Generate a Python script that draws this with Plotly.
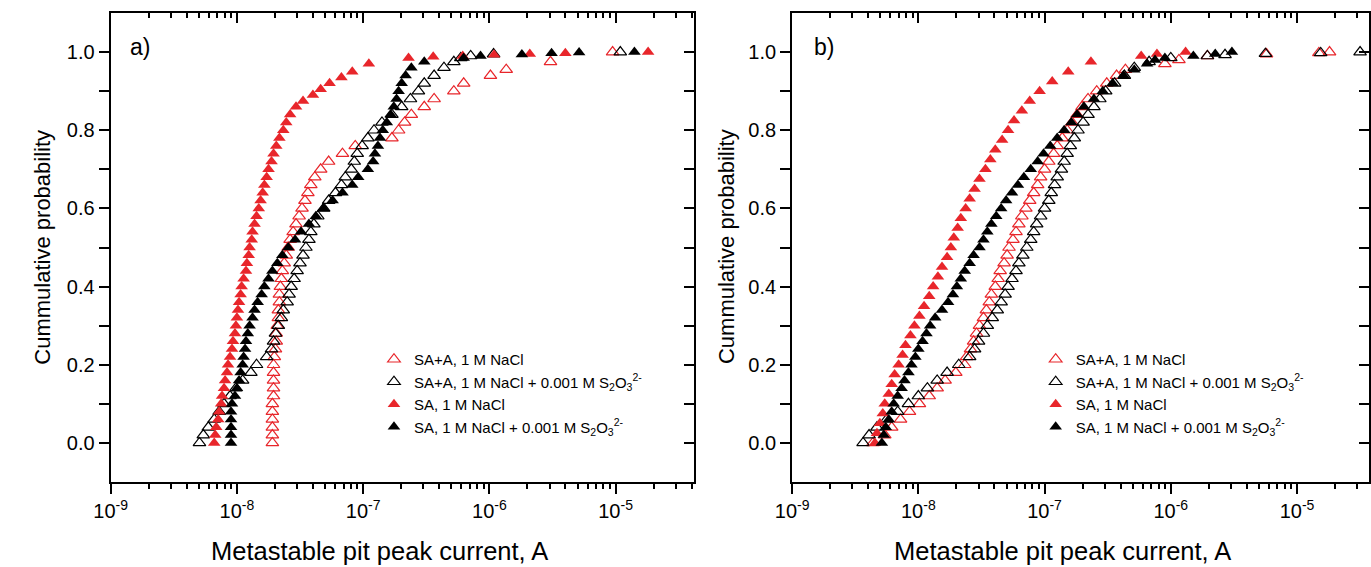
import plotly.graph_objects as go

RED = '#e8262b'
BLACK = '#000000'
FONT = 'Arial, Liberation Sans, sans-serif'

series_labels = [
    "SA+A, 1 M NaCl",
    "SA+A, 1 M NaCl + 0.001 M S<sub>2</sub>O<sub>3</sub><sup>2-</sup>",
    "SA, 1 M NaCl",
    "SA, 1 M NaCl + 0.001 M S<sub>2</sub>O<sub>3</sub><sup>2-</sup>",
]

# cumulative probability levels
grid = [0.00, 0.02, 0.04, 0.06, 0.08, 0.10, 0.12, 0.14, 0.16, 0.18, 0.20, 0.22,
        0.24, 0.26, 0.28, 0.30, 0.32, 0.34, 0.36, 0.38, 0.40, 0.42, 0.44, 0.46,
        0.48, 0.50, 0.52, 0.54, 0.56, 0.58, 0.60, 0.62, 0.64, 0.66, 0.68, 0.70,
        0.72, 0.74, 0.76, 0.78, 0.80, 0.82, 0.84, 0.86, 0.88, 0.90, 0.92, 0.94, 0.96]

# ---------------- panel a ----------------
a_red_open_x = [1.91e-8, 1.91e-8, 1.91e-8, 1.91e-8, 1.91e-8, 1.91e-8, 1.95e-8, 1.95e-8,
                1.95e-8, 1.95e-8, 1.95e-8, 1.98e-8, 2.02e-8, 2.05e-8, 2.05e-8, 2.09e-8,
                2.13e-8, 2.13e-8, 2.17e-8, 2.17e-8, 2.21e-8, 2.25e-8, 2.29e-8, 2.37e-8,
                2.46e-8, 2.55e-8, 2.64e-8, 2.79e-8, 2.94e-8, 3.11e-8, 3.28e-8, 3.46e-8,
                3.65e-8, 3.85e-8, 4.14e-8, 4.61e-8, 5.33e-8, 6.86e-8, 8.66e-8, 1.69e-7,
                1.91e-7, 2.13e-7, 2.41e-7, 3.05e-7, 3.65e-7, 5.23e-7, 6.26e-7, 1.02e-6,
                1.36e-6, 3.05e-6, 9.47e-6]
a_red_open_y = grid[:48] + [0.955, 0.975, 1.0]

a_black_open_x = [5.05e-9, 5.42e-9, 5.94e-9, 6.61e-9, 7.23e-9, 7.91e-9, 8.82e-9, 9.82e-9,
                  1.11e-8, 1.29e-8, 1.43e-8, 1.72e-8, 1.88e-8, 1.95e-8, 2.02e-8, 2.13e-8,
                  2.25e-8, 2.33e-8, 2.50e-8, 2.59e-8, 2.69e-8, 2.84e-8, 3.00e-8, 3.16e-8,
                  3.34e-8, 3.52e-8, 3.72e-8, 3.85e-8, 4.07e-8, 4.37e-8, 4.87e-8, 5.33e-8,
                  6.04e-8, 6.73e-8, 7.23e-8, 8.06e-8, 8.51e-8, 8.98e-8, 9.82e-8, 1.09e-7,
                  1.22e-7, 1.41e-7, 1.69e-7, 2.02e-7, 2.37e-7, 2.74e-7, 3.05e-7, 3.65e-7,
                  4.37e-7, 5.23e-7, 5.94e-7, 7.11e-7, 1.08e-6, 1.09e-5]
a_black_open_y = grid + [0.975, 0.985, 0.99, 0.995, 1.0]

a_red_fill_x = [6.61e-9, 6.73e-9, 6.86e-9, 7.11e-9, 7.23e-9, 7.50e-9, 7.63e-9, 7.91e-9,
                8.06e-9, 8.35e-9, 8.51e-9, 8.82e-9, 9.14e-9, 9.31e-9, 9.65e-9, 9.82e-9,
                1.00e-8, 1.02e-8, 1.04e-8, 1.07e-8, 1.09e-8, 1.13e-8, 1.18e-8, 1.20e-8,
                1.24e-8, 1.26e-8, 1.31e-8, 1.33e-8, 1.38e-8, 1.43e-8, 1.49e-8, 1.54e-8,
                1.60e-8, 1.65e-8, 1.72e-8, 1.78e-8, 1.88e-8, 1.95e-8, 2.05e-8, 2.17e-8,
                2.33e-8, 2.46e-8, 2.64e-8, 2.94e-8, 3.34e-8, 4.00e-8, 4.61e-8, 5.42e-8,
                6.73e-8, 8.20e-8, 1.11e-7, 2.29e-7, 3.59e-7, 6.15e-7, 1.09e-6, 2.09e-6,
                4.00e-6, 1.81e-5]
a_red_fill_y = grid[:44] + [0.875, 0.89, 0.905, 0.92, 0.935, 0.95, 0.97, 0.985,
                            0.988, 0.99, 0.993, 0.995, 0.997, 1.0]

a_black_fill_x = [8.98e-9, 8.98e-9, 8.98e-9, 8.98e-9, 8.98e-9, 9.14e-9, 9.65e-9, 1.00e-8,
                  1.04e-8, 1.07e-8, 1.11e-8, 1.13e-8, 1.16e-8, 1.18e-8, 1.22e-8, 1.26e-8,
                  1.33e-8, 1.38e-8, 1.46e-8, 1.57e-8, 1.65e-8, 1.78e-8, 1.91e-8, 2.09e-8,
                  2.29e-8, 2.55e-8, 2.89e-8, 3.22e-8, 3.72e-8, 4.22e-8, 4.87e-8, 5.73e-8,
                  6.86e-8, 8.20e-8, 9.14e-8, 1.09e-7, 1.20e-7, 1.24e-7, 1.31e-7, 1.36e-7,
                  1.43e-7, 1.54e-7, 1.65e-7, 1.75e-7, 1.84e-7, 1.91e-7, 2.02e-7, 2.17e-7,
                  2.41e-7, 3.05e-7, 6.26e-7, 8.51e-7, 1.81e-6, 3.11e-6, 5.14e-6, 1.41e-5]
a_black_fill_y = grid + [0.975, 0.985, 0.99, 0.994, 0.997, 0.999, 1.0]

# ---------------- panel b ----------------
b_red_open_x = [4.37e-9, 5.42e-9, 6.15e-9, 7.23e-9, 8.51e-9, 1.02e-8, 1.22e-8, 1.41e-8,
                1.63e-8, 1.98e-8, 2.33e-8, 2.41e-8, 2.59e-8, 2.74e-8, 2.89e-8, 3.05e-8,
                3.28e-8, 3.46e-8, 3.65e-8, 3.79e-8, 4.07e-8, 4.29e-8, 4.45e-8, 4.78e-8,
                5.05e-8, 5.23e-8, 5.62e-8, 5.94e-8, 6.26e-8, 6.61e-8, 7.11e-8, 7.63e-8,
                8.20e-8, 8.82e-8, 9.31e-8, 1.00e-7, 1.08e-7, 1.18e-7, 1.26e-7, 1.38e-7,
                1.51e-7, 1.65e-7, 1.81e-7, 1.98e-7, 2.21e-7, 2.59e-7, 3.11e-7, 3.72e-7,
                4.37e-7, 8.98e-7, 1.16e-6, 1.95e-6, 5.73e-6, 1.49e-5, 1.81e-5]
b_red_open_y = grid[:48] + [0.955, 0.97, 0.98, 0.99, 0.995, 0.998, 1.0]

b_black_open_x = [3.65e-9, 4.07e-9, 4.70e-9, 5.62e-9, 6.86e-9, 8.35e-9, 1.00e-8, 1.18e-8,
                  1.41e-8, 1.69e-8, 2.09e-8, 2.55e-8, 2.79e-8, 3.00e-8, 3.28e-8, 3.52e-8,
                  3.85e-8, 4.22e-8, 4.53e-8, 4.87e-8, 5.14e-8, 5.52e-8, 5.94e-8, 6.26e-8,
                  6.73e-8, 7.23e-8, 7.77e-8, 8.20e-8, 8.66e-8, 9.31e-8, 1.00e-7, 1.08e-7,
                  1.13e-7, 1.20e-7, 1.26e-7, 1.36e-7, 1.43e-7, 1.51e-7, 1.60e-7, 1.72e-7,
                  1.84e-7, 2.02e-7, 2.21e-7, 2.46e-7, 2.74e-7, 3.05e-7, 3.59e-7, 4.29e-7,
                  5.14e-7, 6.73e-7, 1.00e-6, 1.95e-6, 2.69e-6, 5.62e-6, 1.54e-5, 3.16e-5]
b_black_open_y = grid + [0.975, 0.985, 0.99, 0.993, 0.996, 0.998, 1.0]

b_red_fill_x = [4.53e-9, 4.70e-9, 4.96e-9, 5.23e-9, 5.42e-9, 5.83e-9, 6.15e-9, 6.49e-9,
                6.98e-9, 7.50e-9, 7.91e-9, 8.66e-9, 9.31e-9, 1.02e-8, 1.11e-8, 1.22e-8,
                1.31e-8, 1.43e-8, 1.54e-8, 1.69e-8, 1.81e-8, 1.91e-8, 2.05e-8, 2.17e-8,
                2.37e-8, 2.55e-8, 2.79e-8, 3.05e-8, 3.40e-8, 3.72e-8, 4.07e-8, 4.61e-8,
                5.14e-8, 5.73e-8, 6.61e-8, 7.63e-8, 9.14e-8, 1.15e-7, 1.54e-7, 2.33e-7,
                5.83e-7, 7.77e-7, 1.31e-6]
b_red_fill_y = [0.0, 0.025, 0.05, 0.075, 0.1, 0.125, 0.15, 0.175, 0.2, 0.225, 0.25, 0.275,
                0.3, 0.325, 0.35, 0.375, 0.4, 0.425, 0.45, 0.475, 0.5, 0.525, 0.55, 0.575,
                0.6, 0.625, 0.65, 0.675, 0.7, 0.725, 0.75, 0.775, 0.8, 0.825, 0.85, 0.875,
                0.9, 0.925, 0.95, 0.975, 0.99, 0.995, 1.0]

b_black_fill_x = [5.14e-9, 5.33e-9, 5.52e-9, 5.83e-9, 6.15e-9, 6.38e-9, 6.86e-9, 7.37e-9,
                  7.77e-9, 8.35e-9, 8.82e-9, 9.47e-9, 1.00e-8, 1.08e-8, 1.16e-8, 1.24e-8,
                  1.36e-8, 1.54e-8, 1.72e-8, 1.88e-8, 2.02e-8, 2.17e-8, 2.33e-8, 2.55e-8,
                  2.74e-8, 3.05e-8, 3.28e-8, 3.52e-8, 3.79e-8, 4.14e-8, 4.53e-8, 4.96e-8,
                  5.52e-8, 6.15e-8, 6.86e-8, 7.77e-8, 8.82e-8, 9.82e-8, 1.11e-7, 1.26e-7,
                  1.43e-7, 1.63e-7, 1.81e-7, 2.05e-7, 2.46e-7, 2.89e-7, 3.46e-7, 4.22e-7,
                  5.14e-7, 6.49e-7, 7.50e-7, 8.98e-7, 1.51e-6, 2.25e-6, 3.05e-6]
b_black_fill_y = grid[:48] + [0.955, 0.97, 0.98, 0.985, 0.99, 0.995, 1.0]

# axis ticks
x_major = [1e-9, 1e-8, 1e-7, 1e-6, 1e-5]
x_major_text = ['10<sup>-9</sup>', '10<sup>-8</sup>', '10<sup>-7</sup>',
                '10<sup>-6</sup>', '10<sup>-5</sup>']
x_minor = [m * 10.0 ** e for e in range(-9, -4) for m in range(2, 10)]
y_ticks = [0.0, 0.1, 0.2, 0.3, 0.4, 0.5, 0.6, 0.7, 0.8, 0.9, 1.0]
y_text = ['0.0', '', '0.2', '', '0.4', '', '0.6', '', '0.8', '', '1.0']

W, H = 1371, 567
dom_a = [95 / W, 687 / W]
dom_b = [786 / W, 1.0]
dom_y = [1 - 482 / H, 1 - 13 / H]
rng_a = [-9, -9 + (687 - 95) / 128]
rng_b = [-9, -9 + (1371 - 786) / 128]
rng_y = [-0.1, 1.1]

fig = go.Figure()

panels = [
    ('x', 'y', 'legend', [(a_red_open_x, a_red_open_y), (a_black_open_x, a_black_open_y),
                          (a_red_fill_x, a_red_fill_y), (a_black_fill_x, a_black_fill_y)]),
    ('x2', 'y2', 'legend2', [(b_red_open_x, b_red_open_y), (b_black_open_x, b_black_open_y),
                             (b_red_fill_x, b_red_fill_y), (b_black_fill_x, b_black_fill_y)]),
]
styles = [('triangle-up-open', RED), ('triangle-up-open', BLACK),
          ('triangle-up', RED), ('triangle-up', BLACK)]

for xa, ya, lg, data in panels:
    for (xs, ys), (sym, col), name in zip(data, styles, series_labels):
        fig.add_trace(go.Scatter(
            x=xs, y=ys, mode='markers', name=name, xaxis=xa, yaxis=ya, legend=lg,
            marker=dict(symbol=sym, size=11, color=col,
                        line=dict(width=1.2 if 'open' in sym else 0, color=col)),
            hoverinfo='skip'))

# dummy traces to create mirrored inward-tick axes
fig.add_trace(go.Scatter(x=[], y=[], xaxis='x3', yaxis='y3', showlegend=False))
fig.add_trace(go.Scatter(x=[], y=[], xaxis='x4', yaxis='y4', showlegend=False))

xtickfont = dict(family=FONT, size=20, color='black')
ytickfont = dict(family=FONT, size=20, color='black')


def xbase(dom, rng, anchor):
    return dict(type='log', domain=dom, range=rng, anchor=anchor, tickmode='array',
                tickvals=x_major, ticktext=x_major_text, ticks='outside', ticklen=10,
                tickwidth=1.5, tickcolor='black', showline=True, linewidth=2,
                linecolor='black', mirror=True, showgrid=False, zeroline=False,
                tickfont=xtickfont,
                minor=dict(tickmode='array', tickvals=x_minor, ticks='outside', ticklen=5,
                           tickwidth=1.5, tickcolor='black', showgrid=False))


def xtop(dom, rng, over, anchor):
    return dict(type='log', domain=dom, range=rng, overlaying=over, side='top',
                anchor=anchor, tickmode='array', tickvals=x_major, ticks='inside',
                ticklen=10, tickwidth=1.5, tickcolor='black', showticklabels=False,
                showline=False, showgrid=False, zeroline=False,
                minor=dict(tickmode='array', tickvals=x_minor, ticks='inside', ticklen=5,
                           tickwidth=1.5, tickcolor='black', showgrid=False))


def ybase(anchor):
    return dict(domain=dom_y, range=rng_y, anchor=anchor, tickmode='array',
                tickvals=y_ticks, ticktext=y_text, ticks='outside', ticklen=10,
                tickwidth=1.5, tickcolor='black', showline=True, linewidth=2,
                linecolor='black', mirror=True, showgrid=False, zeroline=False,
                tickfont=ytickfont)


def yright(over, anchor):
    return dict(domain=dom_y, range=rng_y, overlaying=over, side='right', anchor=anchor,
                tickmode='array', tickvals=y_ticks, ticks='inside', ticklen=10,
                tickwidth=1.5, tickcolor='black', showticklabels=False, showline=False,
                showgrid=False, zeroline=False)


legfont = dict(family=FONT, size=15, color='black')
fig.update_layout(
    width=W, height=H, margin=dict(l=0, r=0, t=0, b=0),
    paper_bgcolor='white', plot_bgcolor='white',
    font=dict(family=FONT, color='black'),
    xaxis=xbase(dom_a, rng_a, 'y'), yaxis=ybase('x'),
    xaxis2=xbase(dom_b, rng_b, 'y2'), yaxis2=ybase('x2'),
    xaxis3=xtop(dom_a, rng_a, 'x', 'y'), yaxis3=yright('y', 'x'),
    xaxis4=xtop(dom_b, rng_b, 'x2', 'y2'), yaxis4=yright('y2', 'x2'),
    legend=dict(x=362 / W, y=1 - 343 / H, xanchor='left', yanchor='top',
                bgcolor='rgba(0,0,0,0)', font=legfont, tracegroupgap=0),
    legend2=dict(x=1033 / W, y=1 - 343 / H, xanchor='left', yanchor='top',
                 bgcolor='rgba(0,0,0,0)', font=legfont, tracegroupgap=0),
    showlegend=True,
)

ann = []
for txt, x in [('a)', 113), ('b)', 806)]:
    ann.append(dict(text=txt, x=x / W, y=1 - 47 / H, xref='paper', yref='paper',
                    xanchor='left', yanchor='middle', showarrow=False,
                    font=dict(family=FONT, size=23, color='black')))
for x in [25, 719]:
    ann.append(dict(text='Cummulative probability', x=x / W, y=1 - 247 / H,
                    xref='paper', yref='paper', textangle=-90, showarrow=False,
                    xanchor='center', yanchor='middle',
                    font=dict(family=FONT, size=22, color='black')))
for x in [368, 1060]:
    ann.append(dict(text='Metastable pit peak current, A', x=x / W, y=1 - 551 / H,
                    xref='paper', yref='paper', showarrow=False,
                    xanchor='center', yanchor='middle',
                    font=dict(family=FONT, size=25.5, color='black')))
fig.update_layout(annotations=ann)

fig.write_html("out.html")
